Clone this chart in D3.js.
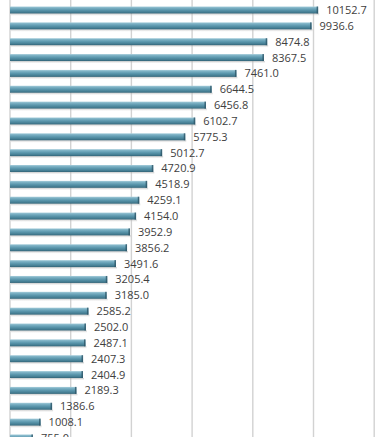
<!DOCTYPE html>
<html><head><meta charset="utf-8">
<script src="https://cdn.jsdelivr.net/npm/d3@7"></script>
<style>html,body{margin:0;padding:0;background:#fff;overflow:hidden}</style>
</head><body>
<script>
const categories = d3.range(1, 29).map(i => "Item " + i);
const values = [10152.7, 9936.6, 8474.8, 8367.5, 7461.0, 6644.5, 6456.8, 6102.7, 5775.3,
  5012.7, 4720.9, 4518.9, 4259.1, 4154.0, 3952.9, 3856.2, 3491.6, 3205.4, 3185.0,
  2585.2, 2502.0, 2487.1, 2407.3, 2404.9, 2189.3, 1386.6, 1008.1, 755.0];
const xTicks = [0, 2000, 4000, 6000, 8000, 10000, 12000];

const W = 378, H = 437;
const data = categories.map((c, i) => ({c, v: values[i]}));
const svg = d3.select("body").append("svg").attr("width", W).attr("height", H);

const x = d3.scaleLinear().domain([0, 12000]).range([10, 374.2]);
const step = 15.85;
const y = d3.scaleBand().domain(categories)
  .range([10 - step / 2, 10 - step / 2 + step * categories.length])
  .paddingInner(0.56).paddingOuter(0.28);

const defs = svg.append("defs");
const g = defs.append("linearGradient").attr("id", "bg").attr("x1", 0).attr("y1", 0).attr("x2", 0).attr("y2", 1);
[[0, "#a9cfdc"], [0.18, "#7fb3c6"], [0.5, "#5b97ad"], [0.85, "#427a8f"], [1, "#2f5f72"]]
  .forEach(([o, c]) => g.append("stop").attr("offset", o).attr("stop-color", c));
const gs = defs.append("linearGradient").attr("id", "sh").attr("x1", 0).attr("y1", 0).attr("x2", 0).attr("y2", 1);
gs.append("stop").attr("offset", 0).attr("stop-color", "#9a9a9a").attr("stop-opacity", 0.55);
gs.append("stop").attr("offset", 1).attr("stop-color", "#cccccc").attr("stop-opacity", 0);

// gridlines
svg.append("g").selectAll("line").data(xTicks).join("line")
  .attr("x1", d => x(d)).attr("x2", d => x(d))
  .attr("y1", 0).attr("y2", H)
  .attr("stroke", "#d2d2d2").attr("stroke-width", 1.4);

const bars = svg.append("g").selectAll("g").data(data).join("g");
// shadow
bars.append("rect")
  .attr("x", x(0) + 1).attr("y", d => y(d.c) + y.bandwidth())
  .attr("width", d => x(d.v) - x(0)).attr("height", 2.5)
  .attr("fill", "url(#sh)");
bars.append("rect")
  .attr("x", x(0)).attr("y", d => y(d.c))
  .attr("width", d => x(d.v) - x(0)).attr("height", y.bandwidth())
  .attr("fill", "url(#bg)");
// end cap
bars.append("rect")
  .attr("x", d => x(d.v) - 1.5).attr("y", d => y(d.c))
  .attr("width", 1.5).attr("height", y.bandwidth())
  .attr("fill", "#2d5566").attr("opacity", 0.8);

bars.append("text")
  .attr("x", d => x(d.v) + 8).attr("y", d => y(d.c) + y.bandwidth() / 2)
  .attr("dy", "0.36em")
  .attr("font-family", "Open Sans, sans-serif").attr("font-size", 11)
  .attr("fill", "#404040")
  .text(d => d.v.toFixed(1));
</script>
</body></html>
